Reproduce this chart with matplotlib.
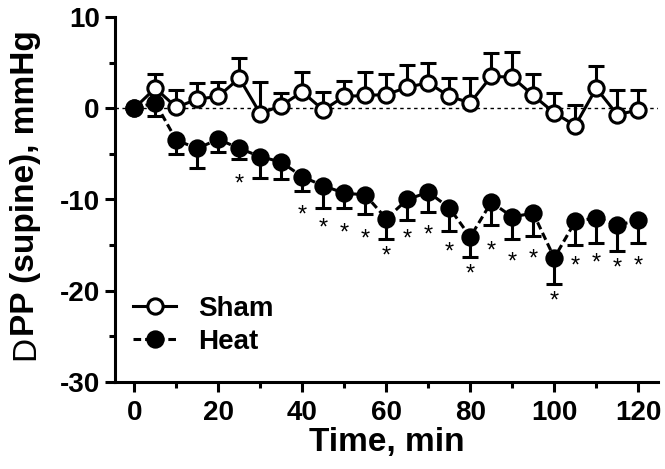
import matplotlib
matplotlib.use("Agg")
import matplotlib.pyplot as plt
import numpy as np
from matplotlib.ticker import MultipleLocator
from matplotlib.lines import Line2D

plt.rcParams['font.family'] = ['Liberation Sans', 'DejaVu Sans']
plt.rcParams['axes.unicode_minus'] = False

time_min = [0, 5, 10, 15, 20, 25, 30, 35, 40, 45, 50, 55, 60,
            65, 70, 75, 80, 85, 90, 95, 100, 105, 110, 115, 120]
sham_mean = [0.0, 2.2, 0.1, 1.0, 1.3, 3.3, -0.6, 0.3, 1.8, -0.2, 1.3, 1.4, 1.5,
             2.3, 2.8, 1.3, 0.6, 3.5, 3.4, 1.4, -0.5, -1.9, 2.2, -0.7, -0.2]
sham_sem = [0.0, 1.5, 1.9, 1.8, 1.6, 2.2, 3.5, 1.4, 2.2, 2.0, 1.7, 2.6, 2.2,
            2.4, 2.2, 2.0, 2.7, 2.5, 2.8, 2.4, 2.2, 2.3, 2.4, 2.7, 2.2]
heat_mean = [0.0, 0.6, -3.5, -4.4, -3.4, -4.4, -5.3, -5.9, -7.5, -8.5, -9.3, -9.5, -12.1,
             -10.0, -9.2, -10.9, -14.1, -10.3, -11.9, -11.5, -16.4, -12.4, -12.0, -12.8, -12.3]
heat_sem = [0.0, 1.5, 1.5, 2.2, 1.4, 1.2, 2.3, 1.9, 1.6, 2.4, 1.6, 2.1, 2.2,
            2.2, 2.2, 2.6, 2.2, 2.5, 2.4, 2.5, 2.9, 2.6, 2.8, 2.8, 2.5]
star_time = [25, 40, 45, 50, 55, 60, 65, 70, 75, 80, 85, 90, 95, 100, 105, 110, 115, 120]
star_y = [-8.4, -11.8, -13.2, -13.7, -14.4, -16.2, -14.4, -13.9, -15.8, -18.2, -15.7,
          -16.9, -16.6, -21.2, -17.4, -17.0, -17.6, -17.3]
x_ticks = [0, 20, 40, 60, 80, 100, 120]
y_ticks = [-30, -20, -10, 0, 10]

fig = plt.figure(figsize=(6.65, 4.69), dpi=100)
ax = fig.add_axes([115/665, 1-382/469, (658-115)/665, (382-17)/469])

LW = 2.2
zeros = np.zeros(len(time_min))
ax.axhline(0, color='black', lw=1.0, ls=(0, (2.5, 2.5)), zorder=1)

ax.errorbar(time_min, sham_mean, yerr=[zeros, sham_sem], fmt='none', ecolor='black',
            elinewidth=LW, capsize=5.5, capthick=LW, zorder=2)
ax.errorbar(time_min, heat_mean, yerr=[heat_sem, zeros], fmt='none', ecolor='black',
            elinewidth=LW, capsize=5.5, capthick=LW, zorder=2)

ax.plot(time_min, sham_mean, color='black', lw=LW, marker='o', ms=11,
        mfc='white', mec='black', mew=LW, zorder=3)
ax.plot(time_min, heat_mean, color='black', lw=LW, ls=(0, (2.5, 1.3)), marker='o', ms=11,
        mfc='black', mec='black', mew=LW, zorder=4)

for t, y in zip(star_time, star_y):
    ax.text(t, y, '*', ha='center', va='center', fontsize=17, color='black')

ax.set_xlim(-4.6, 124.7)
ax.set_ylim(-30, 10)
ax.set_xticks(x_ticks)
ax.set_yticks(y_ticks)
ax.xaxis.set_minor_locator(MultipleLocator(10))
ax.yaxis.set_minor_locator(MultipleLocator(5))
for s in ['top', 'right']:
    ax.spines[s].set_visible(False)
for s in ['left', 'bottom']:
    ax.spines[s].set_linewidth(LW)
ax.tick_params(which='major', direction='out', length=7, width=LW, labelsize=20, pad=4)
ax.tick_params(which='minor', direction='out', length=4, width=LW)
ax.tick_params(axis='x', which='major', pad=6)
for lab in ax.get_xticklabels() + ax.get_yticklabels():
    lab.set_fontweight('bold')

ax.set_xlabel('Time, min', fontsize=24, fontweight='bold', labelpad=1)
ylab = ax.set_ylabel('PP (supine), mmHg', fontsize=24, fontweight='bold')
ax.yaxis.set_label_coords(-0.136, 0.545)
ax.annotate('D', xy=(0.5, 0), xycoords=ylab, rotation=90, ha='center', va='top',
            fontsize=24, fontweight='normal')

handles = [Line2D([], [], color='black', lw=LW, marker='o', ms=11, mfc='white', mec='black', mew=LW),
           Line2D([], [], color='black', lw=LW, ls=(0, (2.5, 1.3)), marker='o', ms=11,
                  mfc='black', mec='black', mew=LW)]
ax.legend(handles, ['Sham', 'Heat'], loc='upper left', bbox_to_anchor=(133/665, 1-296/469),
          bbox_transform=fig.transFigure, frameon=False, borderpad=0, borderaxespad=0,
          handlelength=1.55, handletextpad=0.8, labelspacing=0.25,
          prop={'size': 20, 'weight': 'bold'})

fig.savefig('out.png', dpi=100)
